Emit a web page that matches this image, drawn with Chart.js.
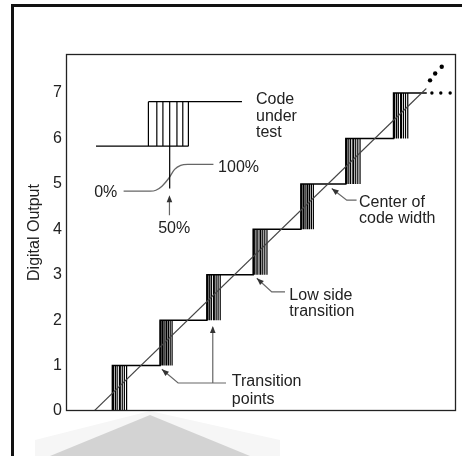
<!DOCTYPE html>
<html>
<head>
<meta charset="utf-8">
<script src="https://cdn.jsdelivr.net/npm/chart.js@4.4.1/dist/chart.umd.min.js"></script>
<style>
html,body{margin:0;padding:0;background:#fff;overflow:hidden;width:462px;height:456px;}
#stage{position:relative;width:462px;height:456px;}
.wm{position:absolute;left:0;top:0;width:462px;height:456px;}
#wmHalo{background:#f6f6f6;clip-path:polygon(35px 440px,150px 411px,280px 440px,280px 456px,35px 456px);}
#wmCore{background:#d3d3d3;clip-path:polygon(50px 456px,150px 415px,250px 456px);}
#frame{position:absolute;left:11px;top:4px;width:600px;height:600px;border-left:3px solid #111;border-top:3px solid #111;}
canvas{position:absolute;left:0;top:0;}
</style>
</head>
<body>
<div id="stage">
  <div id="wmHalo" class="wm"></div>
  <div id="wmCore" class="wm"></div>
  <div id="frame"></div>
  <canvas id="c" width="462" height="456"></canvas>
</div>
<script>
// ---- data ----
const yTicks = [0, 1, 2, 3, 4, 5, 6, 7];
const codes = [1, 2, 3, 4, 5, 6, 7];
const transitionStart = [0.39, 1.41, 2.41, 3.40, 4.42, 5.38, 6.40];
const transitionWidth = [0.32, 0.27, 0.30, 0.31, 0.28, 0.32, 0.32];
const lastCodeEnd = 7.11;
const idealLine = [0, 7.1];
const thickBarFractions = [0.05, 0.5];
const thinBarFractions = [0.2, 0.32, 0.66, 0.8, 0.95];

const insetLevels = [5.83, 6.81];
const insetLowSpan = [0.04, 2.015];
const insetHighSpan = [1.16, 3.16];
const insetBars = [1.16, 1.34, 1.47, 1.615, 1.77, 1.895, 2.015];
const insetCenterDrop = 4.9;
const sCurveX = [0.63, 1.20, 1.32, 1.45, 1.60, 1.72, 1.85, 2.00, 2.55];
const sCurveY = [4.84, 4.84, 4.86, 4.95, 5.13, 5.32, 5.41, 5.43, 5.43];

const diagDotsX = [7.18, 7.29, 7.43];
const diagDotsY = [7.28, 7.43, 7.58];
const flatDotsX = [7.22, 7.41, 7.61];
const flatDotsY = [7, 7, 7];

// callouts (data coordinates)
const leaders = [
  [[1.61, 4.31], [1.61, 4.70]],
  [[1.447, 0.918], [1.795, 0.617], [2.82, 0.617]],
  [[2.536, 0.617], [2.536, 1.84]],
  [[3.477, 2.923], [3.797, 2.621], [4.08, 2.621]],
  [[5.079, 4.899], [5.40, 4.641], [5.61, 4.641]]
];
const arrowHeads = [
  { tip: [1.61, 4.75], from: [1.61, 4.3] },
  { tip: [1.447, 0.918], from: [1.795, 0.617] },
  { tip: [2.536, 1.87], from: [2.536, 0.617] },
  { tip: [3.477, 2.923], from: [3.797, 2.621] },
  { tip: [5.079, 4.899], from: [5.40, 4.641] }
];
const notes = [
  { text: 'Code', at: [3.46, 6.75] },
  { text: 'under', at: [3.46, 6.39] },
  { text: 'test', at: [3.46, 6.035] },
  { text: '100%', at: [2.65, 5.26] },
  { text: '0%', at: [0.0, 4.72] },
  { text: '50%', at: [1.368, 3.91] },
  { text: 'Low side', at: [4.173, 2.445] },
  { text: 'transition', at: [4.173, 2.086] },
  { text: 'Center of', at: [5.662, 4.487] },
  { text: 'code width', at: [5.662, 4.141] },
  { text: 'Transition', at: [2.944, 0.551] },
  { text: 'points', at: [2.944, 0.163] }
];

// ---- build series ----
const FONT = '"Liberation Sans", Arial, Helvetica, sans-serif';
const stairs = [];
codes.forEach((c, i) => { stairs.push({ x: transitionStart[i], y: c - 1 }, { x: transitionStart[i], y: c }); });
stairs.push({ x: lastCodeEnd, y: codes[codes.length - 1] });

function bars(fracs) {
  const pts = [];
  codes.forEach((c, i) => {
    fracs.forEach(f => {
      const x = transitionStart[i] + f * transitionWidth[i];
      pts.push({ x, y: c - 1 }, { x, y: c }, { x, y: null });
    });
  });
  return pts;
}
const insetPts = [
  { x: insetLowSpan[0], y: insetLevels[0] }, { x: insetLowSpan[1], y: insetLevels[0] }, { x: insetLowSpan[1], y: null },
  { x: insetHighSpan[0], y: insetLevels[1] }, { x: insetHighSpan[1], y: insetLevels[1] }, { x: insetHighSpan[1], y: null }
];
insetBars.forEach(x => insetPts.push({ x, y: insetLevels[0] }, { x, y: insetLevels[1] }, { x, y: null }));
insetPts.push({ x: insetBars[3], y: insetLevels[0] }, { x: insetBars[3], y: insetCenterDrop });

const leaderPts = [];
leaders.forEach(seg => { seg.forEach(p => leaderPts.push({ x: p[0], y: p[1] })); leaderPts.push({ x: seg[0][0], y: null }); });

const base = { showLine: true, pointRadius: 0, fill: false, spanGaps: false, borderCapStyle: 'butt' };
const datasets = [
  Object.assign({}, base, { data: idealLine.map(v => ({ x: v, y: v })), borderColor: '#444', borderWidth: 1.1 }),
  Object.assign({}, base, { data: stairs, borderColor: '#000', borderWidth: 1.5, borderJoinStyle: 'miter' }),
  Object.assign({}, base, { data: bars(thickBarFractions), borderColor: '#000', borderWidth: 2 }),
  Object.assign({}, base, { data: bars(thinBarFractions), borderColor: '#000', borderWidth: 1.2 }),
  Object.assign({}, base, { data: insetPts, borderColor: '#000', borderWidth: 1.2 }),
  Object.assign({}, base, { data: sCurveX.map((x, i) => ({ x, y: sCurveY[i] })), borderColor: '#666', borderWidth: 1.3, cubicInterpolationMode: 'monotone' }),
  Object.assign({}, base, { data: leaderPts, borderColor: '#666', borderWidth: 1.2 }),
  { showLine: false, data: diagDotsX.map((x, i) => ({ x, y: diagDotsY[i] })), pointRadius: 2.2, pointBorderWidth: 0, pointBackgroundColor: '#000' },
  { showLine: false, data: flatDotsX.map((x, i) => ({ x, y: flatDotsY[i] })), pointRadius: 1.7, pointBorderWidth: 0, pointBackgroundColor: '#000' }
];

const decor = {
  id: 'decor',
  afterDatasetsDraw(chart) {
    const { ctx, chartArea: a, scales: { x, y } } = chart;
    ctx.save();
    ctx.strokeStyle = '#222';
    ctx.lineWidth = 1.3;
    ctx.strokeRect(a.left - 0.5, a.top + 0.5, a.right - a.left, a.bottom - a.top - 1);
    // arrow heads
    ctx.fillStyle = '#333';
    arrowHeads.forEach(h => {
      const tx = x.getPixelForValue(h.tip[0]), ty = y.getPixelForValue(h.tip[1]);
      const fx = x.getPixelForValue(h.from[0]), fy = y.getPixelForValue(h.from[1]);
      let dx = tx - fx, dy = ty - fy; const L = Math.hypot(dx, dy); dx /= L; dy /= L;
      const len = 7, hw = 2.8;
      const bx = tx - dx * len, by = ty - dy * len;
      ctx.beginPath();
      ctx.moveTo(tx, ty);
      ctx.lineTo(bx - dy * hw, by + dx * hw);
      ctx.lineTo(bx + dy * hw, by - dx * hw);
      ctx.closePath();
      ctx.fill();
    });
    // texts
    ctx.fillStyle = '#222';
    ctx.font = '16px ' + FONT;
    ctx.textAlign = 'left';
    ctx.textBaseline = 'alphabetic';
    notes.forEach(n => ctx.fillText(n.text, x.getPixelForValue(n.at[0]), y.getPixelForValue(n.at[1])));
    ctx.restore();
  }
};

new Chart(document.getElementById('c'), {
  type: 'scatter',
  data: { datasets },
  plugins: [decor],
  options: {
    responsive: false,
    devicePixelRatio: 1,
    animation: false,
    layout: { padding: { left: 0, top: 54, right: 6, bottom: 45 } },
    plugins: { legend: { display: false }, tooltip: { enabled: false } },
    scales: {
      x: { type: 'linear', min: -0.58, max: 7.735, display: false },
      y: {
        type: 'linear', min: 0, max: 7.86,
        afterBuildTicks: s => { s.ticks = yTicks.map(v => ({ value: v })); },
        afterFit: s => { s.width = 67; },
        grid: { display: false, drawTicks: false },
        border: { display: false },
        ticks: { font: { size: 16, family: FONT }, color: '#222', padding: 5 },
        title: { display: true, text: 'Digital Output', font: { size: 16, family: FONT }, color: '#222', padding: { top: 25, bottom: 0 } }
      }
    }
  }
});
</script>
</body>
</html>
